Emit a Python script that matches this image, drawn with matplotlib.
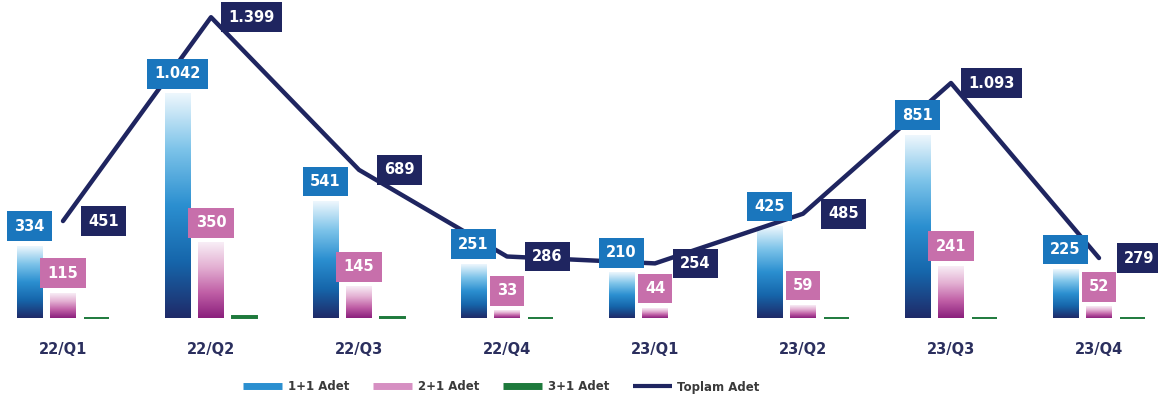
import numpy as np
import matplotlib
matplotlib.use('Agg')
import matplotlib.pyplot as plt
from matplotlib.colors import LinearSegmentedColormap
from matplotlib.lines import Line2D

# Veriler
quarters = ['22/Q1', '22/Q2', '22/Q3', '22/Q4', '23/Q1', '23/Q2', '23/Q3', '23/Q4']
adet_1_1 = [334, 1042, 541, 251, 210, 425, 851, 225]
adet_2_1 = [115, 350, 145, 33, 44, 59, 241, 52]
adet_3_1 = [2, 7, 3, 2, 0, 1, 1, 2]
toplam = [451, 1399, 689, 286, 254, 485, 1093, 279]

# Renkler
navy = '#1f2560'
blue_box = '#1a76bd'
pink_box = '#c76fab'
green = '#1e7a3c'
blue_cmap = LinearSegmentedColormap.from_list(
	'blue_grad', ['#1f2a68', '#1666ab', '#2b8fd0', '#7cc3e9', '#eef7fd'])
pink_cmap = LinearSegmentedColormap.from_list(
	'pink_grad', ['#8a1f7c', '#c05fa6', '#e3afd2', '#f8eef6'])


def fmt(v):
	"""Binlik ayırıcı olarak nokta"""
	return f"{v:,}".replace(',', '.')


def gradient_bar(ax, x, h, width, cmap):
	"""Dikey renk geçişli çubuk"""
	if h <= 0:
		return
	grad = np.linspace(0, 1, 256).reshape(-1, 1)
	ax.imshow(grad, extent=(x - width / 2, x + width / 2, 0, h), origin='lower',
	          cmap=cmap, aspect='auto', interpolation='bicubic', zorder=2)


fig = plt.figure(figsize=(11.58, 4.09), dpi=100)
ax = fig.add_axes([0, 91 / 409, 1, 318 / 409])

x = np.arange(len(quarters))
width = 0.17
offset = 0.226

for i in range(len(quarters)):
	gradient_bar(ax, x[i] - offset, adet_1_1[i], width, blue_cmap)
	gradient_bar(ax, x[i], adet_2_1[i], width, pink_cmap)
	if adet_3_1[i] > 0:
		ax.bar(x[i] + offset, adet_3_1[i], width=width, color=green,
		       edgecolor=green, linewidth=1.4, zorder=2, clip_on=False)

ax.plot(x, toplam, color=navy, linewidth=3.2, solid_joinstyle='round',
        solid_capstyle='round', zorder=3)

label_font = dict(color='white', fontsize=10.5, fontweight='bold', zorder=5)
for i in range(len(quarters)):
	ax.annotate(fmt(adet_1_1[i]), xy=(x[i] - offset, adet_1_1[i]), xytext=(0, 9),
	            textcoords='offset points', ha='center', va='bottom',
	            bbox=dict(boxstyle='square,pad=0.5', fc=blue_box, ec='none'), **label_font)
	ax.annotate(fmt(adet_2_1[i]), xy=(x[i], adet_2_1[i]), xytext=(0, 9),
	            textcoords='offset points', ha='center', va='bottom',
	            bbox=dict(boxstyle='square,pad=0.5', fc=pink_box, ec='none'), **label_font)
	ax.annotate(fmt(toplam[i]), xy=(x[i], toplam[i]), xytext=(29, 0),
	            textcoords='offset points', ha='center', va='center',
	            bbox=dict(boxstyle='square,pad=0.5', fc=navy, ec='none'), **label_font)

ax.set_xlim(-63 / 148, (1158 - 63) / 148)
ax.set_ylim(0, 318 / 0.215)
ax.set_xticks(x)
ax.set_xticklabels(quarters, fontsize=10.5, fontweight='bold', color='#2b2f5e')
ax.tick_params(axis='x', length=0, pad=17)
ax.set_yticks([])
for spine in ax.spines.values():
	spine.set_visible(False)

handles = [
	Line2D([0], [0], color='#2b8fd0', linewidth=5, solid_capstyle='butt'),
	Line2D([0], [0], color='#d68fc2', linewidth=5, solid_capstyle='butt'),
	Line2D([0], [0], color=green, linewidth=5, solid_capstyle='butt'),
	Line2D([0], [0], color=navy, linewidth=3, solid_capstyle='butt'),
]
labels = ['1+1 Adet', '2+1 Adet', '3+1 Adet', 'Toplam Adet']
leg = fig.legend(handles, labels, loc='center', bbox_to_anchor=(0.433, 22 / 409),
                 ncol=4, frameon=False, handlelength=3.3, handletextpad=0.5,
                 columnspacing=2.0, prop=dict(size=8.5, weight='bold'))
for t in leg.get_texts():
	t.set_color('#3a3a3a')

fig.savefig('out.png', dpi=100)
